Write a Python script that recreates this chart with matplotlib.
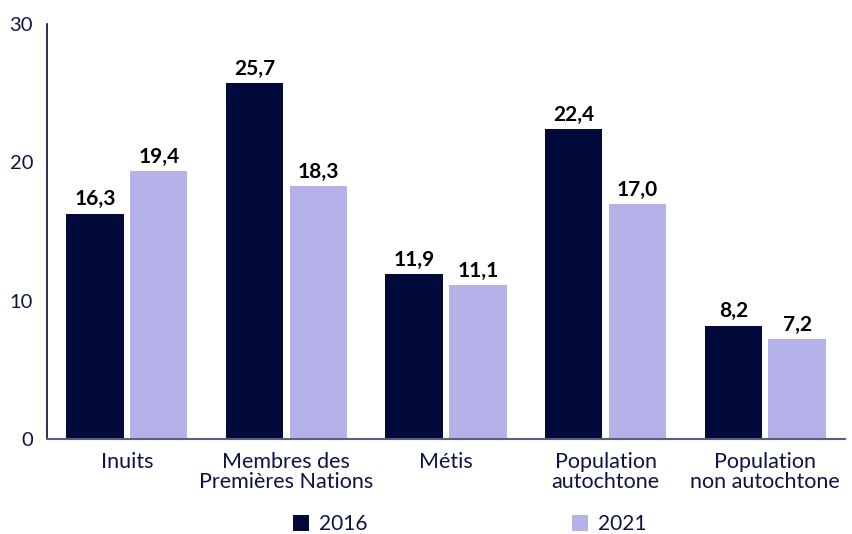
import numpy as np
import matplotlib.pyplot as plt

plt.rcParams['font.family'] = ['Lato', 'DejaVu Sans']

categories = ["Inuits", "Membres des\nPremières Nations", "Métis",
              "Population\nautochtone", "Population\nnon autochtone"]
values_2016 = [16.3, 25.7, 11.9, 22.4, 8.2]
values_2021 = [19.4, 18.3, 11.1, 17.0, 7.2]
yticks = [0, 10, 20, 30]

navy = "#020a3c"
lilac = "#b4b2e8"
text_col = "#0d1445"

fig = plt.figure(figsize=(8.52, 5.34), dpi=100)
ax = fig.add_axes([47 / 852, 95 / 534, (845 - 47) / 852, (439 - 24) / 534])

x = np.arange(len(categories))
w = 0.36
b1 = ax.bar(x - 0.2, values_2016, w, color=navy, label="2016")
b2 = ax.bar(x + 0.2, values_2021, w, color=lilac, label="2021")

for bars in (b1, b2):
    for r in bars:
        ax.text(r.get_x() + r.get_width() / 2, r.get_height() + 0.3,
                f"{r.get_height():.1f}".replace(".", ","),
                ha="center", va="bottom", fontsize=15, fontweight="bold", color="black")

ax.set_xlim(-0.5, len(categories) - 0.5)
ax.set_ylim(0, 30)
ax.set_yticks(yticks)
ax.set_xticks(x)
ax.set_xticklabels(categories, fontsize=15.5, color=text_col, linespacing=1.05)
ax.tick_params(axis="y", labelsize=14.5, colors=text_col, length=0, pad=10)
ax.tick_params(axis="x", length=0, pad=9)

for s in ("top", "right"):
    ax.spines[s].set_visible(False)
ax.spines["left"].set_color(navy)
ax.spines["left"].set_linewidth(1.2)
ax.spines["bottom"].set_color("#5a5f78")
ax.spines["bottom"].set_linewidth(1.5)

fig.legend(handles=[b1, b2], labels=["2016", "2021"], loc="lower center",
           bbox_to_anchor=(0.551, -0.035), ncol=2, frameon=False, fontsize=15,
           handlelength=0.8, handleheight=0.8, handletextpad=0.45, columnspacing=9.8,
           labelcolor=text_col)

plt.savefig("out.png", dpi=100)
